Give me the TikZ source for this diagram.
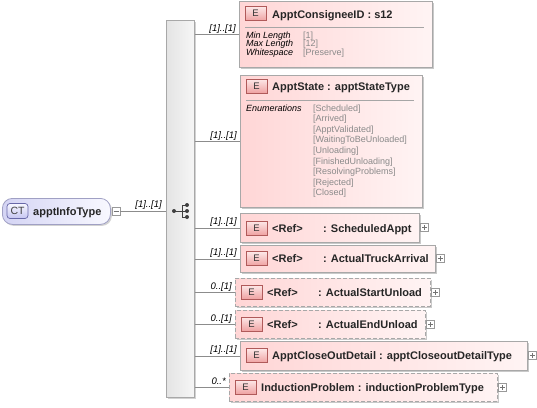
\documentclass[tikz,border=0pt]{standalone}
\usepackage{fontspec}
\setmainfont{Liberation Sans}
\usetikzlibrary{shadows}
\definecolor{epinkL}{HTML}{FFD6D6}
\definecolor{epinkR}{HTML}{FFF4F4}
\definecolor{boxborder}{HTML}{A8A8A8}
\definecolor{badgeborder}{HTML}{B05A5A}
\definecolor{badgetop}{HTML}{FDE8E8}
\definecolor{badgebot}{HTML}{EFA2A2}
\definecolor{linegray}{HTML}{8C8C8C}
\definecolor{ctL}{HTML}{D4D4F4}
\definecolor{ctR}{HTML}{F8F8FF}
\definecolor{ctborder}{HTML}{A0A0C4}
\definecolor{ctbadge}{HTML}{C4C4F0}
\definecolor{ctbadgeborder}{HTML}{6868A8}
\definecolor{seqL}{HTML}{E4E4E4}
\definecolor{seqR}{HTML}{F6F6F6}
\definecolor{valgray}{HTML}{8A8A8A}
\tikzset{
  conn/.style={draw=linegray, line width=0.7pt},
  card/.style={font=\itshape\fontsize{9.5}{10}\selectfont, anchor=base east, inner sep=0},
  elem/.style={draw=boxborder, line width=0.8pt, left color=epinkL, right color=epinkR,
    inner sep=0, anchor=north west,
    drop shadow={shadow xshift=2pt, shadow yshift=-2pt, opacity=0.3, fill=black!70}},
  optelem/.style={elem, dash pattern=on 4pt off 2pt},
  ebadge/.style={draw=badgeborder, line width=0.7pt, top color=badgetop, bottom color=badgebot,
    minimum width=21pt, minimum height=14pt, inner sep=0, font=\fontsize{9.5}{9.5}\selectfont, text=black!80},
  hdr/.style={font=\bfseries\fontsize{11}{12}\selectfont, inner sep=0, anchor=base west, text=black!85},
  facet/.style={font=\itshape\fontsize{9}{9}\selectfont, inner sep=0, anchor=base west},
  fval/.style={font=\fontsize{9}{9}\selectfont, text=valgray, inner sep=0, anchor=base west},
  sep/.style={draw=black!35, line width=0.7pt},
  plusbox/.style={draw=black!40, fill=white, minimum size=8pt, inner sep=0, line width=0.5pt,
    path picture={\draw[black!55, line width=0.5pt]
      ([xshift=-2.5pt]path picture bounding box.center) -- ([xshift=2.5pt]path picture bounding box.center)
      ([yshift=-2.5pt]path picture bounding box.center) -- ([yshift=2.5pt]path picture bounding box.center);}},
  minusbox/.style={draw=black!40, fill=white, minimum size=8pt, inner sep=0, line width=0.5pt,
    path picture={\draw[black!55, line width=0.5pt]
      ([xshift=-2.5pt]path picture bounding box.center) -- ([xshift=2.5pt]path picture bounding box.center);}},
}
\begin{document}
\begin{tikzpicture}[x=1pt,y=-1pt]
\useasboundingbox (0,0) rectangle (537,407);

% complex type node
\node[draw=ctborder, line width=0.8pt, rounded corners=10pt, left color=ctL, right color=ctR,
  minimum width=108pt, minimum height=26pt, inner sep=0, anchor=north west,
  drop shadow={shadow xshift=1.5pt, shadow yshift=-1.5pt, opacity=0.25, fill=black!70}] (ct) at (2,198) {};
\node[draw=ctbadgeborder, line width=0.7pt, rounded corners=3pt, top color=ctR, bottom color=ctbadge,
  minimum width=21pt, minimum height=15pt, inner sep=0, font=\fontsize{10.5}{10.5}\selectfont, text=black!75] (ctb) at (17.5,211) {CT};
\node[hdr] (ctt) at (33,215) {apptInfoType};
\node[minusbox] (mn) at (116,211) {};

% sequence bar
\node[draw=boxborder, line width=0.8pt, left color=seqL, right color=seqR, inner sep=0,
  minimum width=28pt, minimum height=377pt, anchor=north west,
  drop shadow={shadow xshift=2pt, shadow yshift=-2pt, opacity=0.25, fill=black!70}] (seq) at (166,20) {};
\draw[conn] (mn.east) -- (mn.east -| seq.west);
\node[card] (c0) at (162,207) {[1]..[1]};

% sequence icon
\draw[black!75, line width=0.7pt] (174,211) -- (182,211) (182,205) -- (182,217) (182,205) -- (187,205) (182,211) -- (187,211) (182,217) -- (187,217);
\fill[black!75] (174,211) circle (2pt) (187,205) circle (2pt) (187,211) circle (2pt) (187,217) circle (2pt);

% 1 ApptConsigneeID
\node[elem, minimum width=193pt, minimum height=66pt] (n1) at (239,1) {};
\node[ebadge] (b1) at (255.5,13.5) {E};
\node[hdr] (t1) at (272,18) {ApptConsigneeID : s12};
\draw[sep] (245,27.5) -- (424,27.5);
\node[facet] (f1a) at (246,38) {Min Length};
\node[facet] (f1b) at (246,46.5) {Max Length};
\node[facet] (f1c) at (246,55) {Whitespace};
\node[fval] (v1a) at (303,38) {[1]};
\node[fval] (v1b) at (303,46.5) {[12]};
\node[fval] (v1c) at (303,55) {[Preserve]};

% 2 ApptState
\node[elem, minimum width=182pt, minimum height=132pt] (n2) at (240,75) {};
\node[ebadge] (b2) at (256.5,86) {E};
\node[hdr] (t2) at (272,90.5) {ApptState : apptStateType};
\draw[sep] (246,100.5) -- (414,100.5);
\node[facet] (f2) at (246,111) {Enumerations};
\foreach \s [count=\i from 0] in {Scheduled,Arrived,ApptValidated,WaitingToBeUnloaded,Unloading,FinishedUnloading,ResolvingProblems,Rejected,Closed}
  \node[fval] (v2\i) at (313,111+10.6*\i) {[\s]};

% 3 ScheduledAppt
\node[elem, minimum width=179pt, minimum height=29pt] (n3) at (240,213) {};
\node[ebadge] (b3) at (256.5,228) {E};
\node[hdr] (r3) at (272,232) {<Ref>};
\node[hdr] (t3) at (323,232) {: ScheduledAppt};
\node[plusbox] (p3) at (424.5,227.5) {};

% 4 ActualTruckArrival
\node[elem, minimum width=195pt, minimum height=27pt] (n4) at (240,245) {};
\node[ebadge] (b4) at (256.5,258.5) {E};
\node[hdr] (r4) at (272,262.5) {<Ref>};
\node[hdr] (t4) at (323,262.5) {: ActualTruckArrival};
\node[plusbox] (p4) at (440.5,258.5) {};

% 5 ActualStartUnload (optional)
\node[optelem, minimum width=195pt, minimum height=28pt] (n5) at (235,278) {};
\node[ebadge] (b5) at (251.5,292) {E};
\node[hdr] (r5) at (267,296) {<Ref>};
\node[hdr] (t5) at (318,296) {: ActualStartUnload};
\node[plusbox] (p5) at (435.5,292) {};

% 6 ActualEndUnload (optional)
\node[optelem, minimum width=190pt, minimum height=28pt] (n6) at (235,310) {};
\node[ebadge] (b6) at (251.5,324) {E};
\node[hdr] (r6) at (267,328) {<Ref>};
\node[hdr] (t6) at (318,328) {: ActualEndUnload};
\node[plusbox] (p6) at (430.5,324) {};

% 7 ApptCloseOutDetail
\node[elem, minimum width=287pt, minimum height=29pt] (n7) at (240,341) {};
\node[ebadge] (b7) at (256.5,355.5) {E};
\node[hdr] (t7) at (272,359.5) {ApptCloseOutDetail : apptCloseoutDetailType};
\node[plusbox] (p7) at (532.5,355.5) {};

% 8 InductionProblem (optional, unbounded)
\node[optelem, minimum width=268pt, minimum height=28pt] (n8) at (229,373) {};
\node[ebadge] (b8) at (245.5,387) {E};
\node[hdr] (t8) at (261,391) {InductionProblem : inductionProblemType};
\node[plusbox] (p8) at (502.5,387) {};

% connectors and cardinalities
\foreach \n/\c in {n1/{[1]..[1]},n2/{[1]..[1]},n3/{[1]..[1]},n4/{[1]..[1]},n5/{0..[1]},n6/{0..[1]},n7/{[1]..[1]},n8/{0..*}} {
  \draw[conn] (seq.east |- \n.west) -- (\n.west);
  \node[card] (cd\n) at ([xshift=-3pt,yshift=3pt]\n.west) {\c};
}
\end{tikzpicture}
\end{document}
